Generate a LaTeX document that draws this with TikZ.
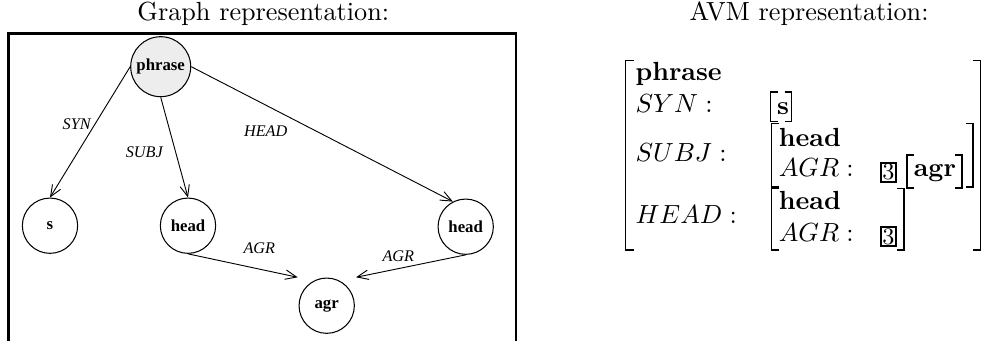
\documentclass[tikz,border=0pt]{standalone}
\usepackage{fontspec}
\newfontfamily\timesf{Liberation Serif}
\usetikzlibrary{arrows.meta}
\tikzset{
  circ/.style={circle, draw, line width=0.4pt, minimum size=21.1pt, inner sep=0pt,
    font=\timesf\bfseries\fontsize{6.4}{7}\selectfont},
  top/.style={circ, minimum size=22.9pt, fill=black!7},
  elabel/.style={font=\timesf\itshape\fontsize{6.2}{7}\selectfont, inner sep=0pt},
  arr/.style={-{Straight Barb[length=4.3pt,width=3.6pt]}, line width=0.35pt},
  frame/.style={line width=1.1pt},
  brk/.style={line width=0.42pt},
  avm/.style={anchor=base west, inner sep=0pt},
  tag/.style={draw, line width=0.8pt, inner sep=0.6pt, font=\fontsize{9}{10}\selectfont},
  title/.style={anchor=base, inner sep=0pt}
}
\begin{document}
\begin{tikzpicture}[x=0.3817pt, y=-0.3817pt]
\useasboundingbox (0,0) rectangle (990,341);
% titles
\node[title] (t1) at (263.3,20.7) {Graph representation:};
\node[title] (t2) at (809,20.7) {AVM representation:};
% frame
\draw[frame] (8.3,343) -- (8.3,33.3) -- (516,33.3) -- (516,343);
% graph nodes
\node[top]  (phrase) at (160.7,66.7) {phrase};
\node[circ] (s)      at (50,225.7)   {s};
\node[circ] (h1)     at (188,225.7)  {head};
\node[circ] (h2)     at (465.7,226.7){head};
\node[circ] (agr)    at (326.7,305.7){agr};
\coordinate (a1) at (297.7,277.3);
\coordinate (a2) at (356,277.3);
% edges
\draw[arr] (phrase.west) -- (s.north);
\draw[arr] (phrase.south) -- (h1.north);
\draw[arr] (phrase.east) -- (h2.117);
\draw[arr] (h1.south) -- (a1);
\draw[arr] (h2.south) -- (a2);
% edge labels
\node[elabel] (lsyn)  at (76.7,124)   {SYN};
\node[elabel] (lsubj) at (144.3,152.3){SUBJ};
\node[elabel] (lhead) at (265.7,131)  {HEAD};
\node[elabel] (lagr1) at (259.3,248.3){AGR};
\node[elabel] (lagr2) at (398.3,256)  {AGR};
% AVM text
\node[avm] (v1) at (635,81)    {\textbf{phrase}};
\node[avm] (v2) at (635,113)   {$SYN:$};
\node[avm] (v3) at (635,161.5) {$SUBJ:$};
\node[avm] (v4) at (635,223.3) {$HEAD:$};
\node[avm] (v5) at (776.7,115) {\textbf{s}};
\node[avm] (v6) at (778.3,146.5) {\textbf{head}};
\node[avm] (v7) at (778.3,176.5) {$AGR:$};
\node[avm] (v8) at (913.3,177) {\textbf{agr}};
\node[avm] (v9) at (778.3,210) {\textbf{head}};
\node[avm] (v10) at (778.3,242) {$AGR:$};
\node[tag] (b1) at (888.5,172.3) {3};
\node[tag] (b2) at (888.5,236.5) {3};
% brackets
\draw[brk] (633.7,60.7) -- (625.7,60.7) -- (625.7,250) -- (633.7,250);
\draw[brk] (972.7,60.7) -- (980.7,60.7) -- (980.7,250) -- (972.7,250);
\draw[brk] (777.7,92) -- (770.7,92) -- (770.7,121.7) -- (777.7,121.7);
\draw[brk] (784.7,92) -- (791.7,92) -- (791.7,121.7) -- (784.7,121.7);
\draw[brk] (778.7,123.5) -- (771.7,123.5) -- (771.7,187) -- (778.7,187);
\draw[brk] (966,123.5) -- (973,123.5) -- (973,187) -- (966,187);
\draw[brk] (914,155) -- (907,155) -- (907,188) -- (914,188);
\draw[brk] (955,155) -- (962,155) -- (962,188) -- (955,188);
\draw[brk] (778.7,188.3) -- (771.7,188.3) -- (771.7,250) -- (778.7,250);
\draw[brk] (897,188.3) -- (904,188.3) -- (904,250) -- (897,250);
\end{tikzpicture}
\end{document}
